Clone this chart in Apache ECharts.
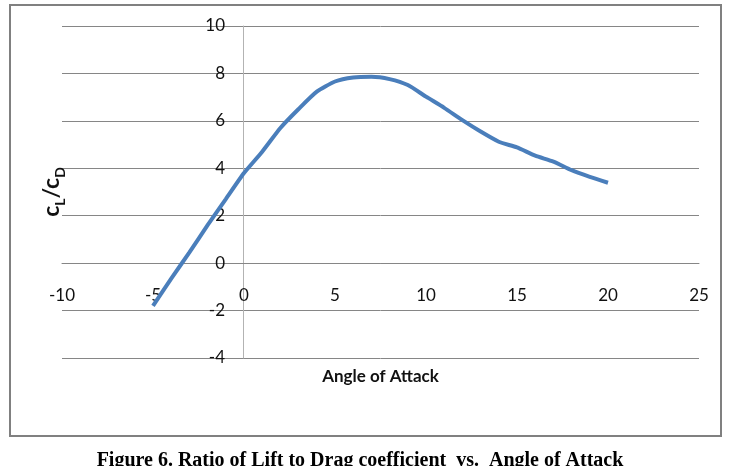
<!DOCTYPE html>
<html>
<head>
<meta charset="utf-8">
<title>Lift to Drag ratio vs Angle of Attack</title>
<script src="https://cdn.jsdelivr.net/npm/echarts@6/dist/echarts.min.js"></script>
<style>
  html, body { margin: 0; padding: 0; background: #fff; }
  #chart { width: 733px; height: 466px; }
</style>
</head>
<body>
<div id="chart"></div>
<script>
// angle of attack (deg)
const angles = [-5, -4, -3, -2, -1, 0, 1, 2, 3, 4, 5, 6, 7, 8, 9, 10, 11, 12, 13, 14, 15, 16, 17, 18, 19, 20];
// CL/CD
const ratio = [-1.8, -0.65, 0.45, 1.6, 2.7, 3.8, 4.7, 5.7, 6.5, 7.23, 7.66, 7.83, 7.86, 7.76, 7.51, 7.02, 6.55, 6.03, 5.55, 5.12, 4.88, 4.53, 4.28, 3.92, 3.64, 3.39];
// axis ticks: min, max, step
const xTicks = [-10, 25, 5];
const yTicks = [-4, 10, 2];

const caption = 'Figure 6. Ratio of Lift to Drag coefficient  vs.  Angle of Attack';

const chart = echarts.init(document.getElementById('chart'));

const option = {
  backgroundColor: '#fff',
  animation: false,
  grid: { left: 62, right: 34, top: 26, bottom: 108, containLabel: false, outerBoundsMode: 'none' },
  xAxis: {
    type: 'value',
    min: xTicks[0],
    max: xTicks[1],
    interval: xTicks[2],
    // axis sits on y = 0 (Excel style crossing)
    offset: -95,
    axisLine: { onZero: false, lineStyle: { color: '#868686', width: 1 } },
    axisTick: { show: false },
    splitLine: { show: false },
    axisLabel: { margin: 24, fontSize: 17, color: '#111', fontFamily: 'Lato' },
    name: 'Angle of Attack',
    nameLocation: 'middle',
    nameGap: 105,
    nameTextStyle: { fontSize: 17, fontWeight: 'bold', color: '#111', fontFamily: 'Lato' },
  },
  yAxis: {
    type: 'value',
    min: yTicks[0],
    max: yTicks[1],
    interval: yTicks[2],
    // axis sits on x = 0
    offset: -181,
    axisLine: { onZero: false, lineStyle: { color: '#b3b3b3', width: 1 } },
    axisTick: { show: false },
    splitLine: { lineStyle: { color: '#868686', width: 1 } },
    axisLabel: { margin: 18, fontSize: 17, color: '#111', fontFamily: 'Lato' },
    name: '{c|c}{s|L}{c|/c}{s|D}',
    nameLocation: 'middle',
    nameRotate: 90,
    nameGap: 180,
    nameTextStyle: {
      rich: {
        c: { fontSize: 23, fontWeight: 'bold', color: '#111', fontFamily: 'Lato', lineHeight: 26, verticalAlign: 'bottom' },
        s: { fontSize: 14, fontWeight: 'bold', color: '#111', fontFamily: 'Lato', lineHeight: 26, verticalAlign: 'bottom', padding: [0, 0, -4, 0] },
      },
    },
  },
  series: [
    {
      type: 'line',
      data: angles.map((a, i) => [a, ratio[i]]),
      showSymbol: false,
      smooth: 0.2,
      lineStyle: { color: '#4a7ebb', width: 4 },
    },
  ],
  graphic: [
    {
      type: 'rect',
      shape: { x: 10, y: 5, width: 711, height: 431 },
      style: { fill: 'none', stroke: '#808080', lineWidth: 2 },
      z: 100,
    },
    {
      type: 'text',
      x: 360,
      y: 451,
      style: {
        text: caption,
        font: 'bold 20px "Liberation Serif"',
        fill: '#000',
        textAlign: 'center',
        textVerticalAlign: 'top',
      },
    },
  ],
};

chart.setOption(option);
</script>
</body>
</html>
